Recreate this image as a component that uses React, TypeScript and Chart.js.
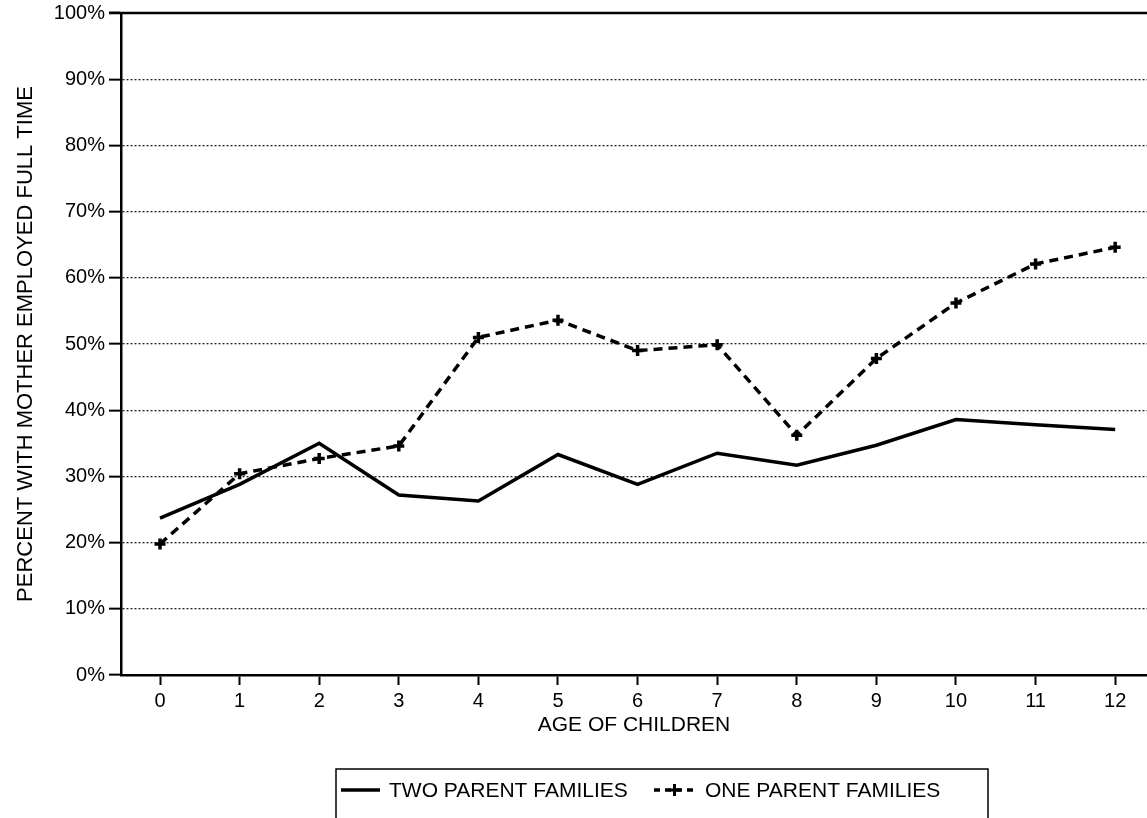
import React, { useEffect, useRef } from "react";
import { Chart, registerables } from "chart.js";

Chart.register(...registerables);

const ages: number[] = [0, 1, 2, 3, 4, 5, 6, 7, 8, 9, 10, 11, 12];
const twoParent: number[] = [23.7, 28.8, 35.0, 27.2, 26.3, 33.3, 28.8, 33.5, 31.7, 34.7, 38.6, 37.8, 37.1];
const oneParent: number[] = [19.8, 30.4, 32.7, 34.6, 51.0, 53.6, 49.0, 49.9, 36.2, 47.8, 56.2, 62.1, 64.6];
const yTicks: number[] = [0, 10, 20, 30, 40, 50, 60, 70, 80, 90, 100];
const seriesNames: string[] = ["TWO PARENT FAMILIES", "ONE PARENT FAMILIES"];
const xTitle = "AGE OF CHILDREN";
const yTitle = "PERCENT WITH MOTHER EMPLOYED FULL TIME";

const FONT = "'Liberation Sans', Arial, Helvetica, sans-serif";

const frameAndLegend = {
  id: "frameAndLegend",
  afterDraw(chart: any) {
    const { ctx, chartArea } = chart;
    ctx.save();
    ctx.strokeStyle = "#000";
    ctx.lineWidth = 2.5;
    ctx.setLineDash([]);
    ctx.beginPath();
    ctx.moveTo(chartArea.left - 12, chartArea.top);
    ctx.lineTo(chartArea.right, chartArea.top);
    ctx.stroke();

    const bx = 336, by = 769, bw = 652, bh = 80;
    ctx.lineWidth = 1.5;
    ctx.strokeRect(bx, by, bw, bh);

    const cy = 790;
    ctx.font = `21px ${FONT}`;
    ctx.fillStyle = "#000";
    ctx.textBaseline = "middle";
    ctx.textAlign = "left";
    ctx.lineWidth = 3.5;
    ctx.beginPath();
    ctx.moveTo(341, cy);
    ctx.lineTo(380, cy);
    ctx.stroke();
    ctx.fillText(seriesNames[0], 389, cy + 1);
    ctx.setLineDash([6, 5]);
    ctx.lineWidth = 3.5;
    ctx.beginPath();
    ctx.moveTo(654, cy);
    ctx.lineTo(695, cy);
    ctx.stroke();
    ctx.setLineDash([]);
    ctx.lineWidth = 3;
    ctx.beginPath();
    ctx.moveTo(668, cy);
    ctx.lineTo(681, cy);
    ctx.moveTo(674.5, cy - 6);
    ctx.lineTo(674.5, cy + 6);
    ctx.stroke();
    ctx.fillText(seriesNames[1], 705, cy + 1);
    ctx.restore();
  },
};

export default function App() {
  const ref = useRef<HTMLCanvasElement | null>(null);
  useEffect(() => {
    if (!ref.current) return;
    const chart = new Chart(ref.current, {
      type: "line",
      data: {
        datasets: [
          {
            label: seriesNames[0],
            data: ages.map((a, i) => ({ x: a, y: twoParent[i] })),
            borderColor: "#000",
            borderWidth: 3.5,
            pointRadius: 0,
            tension: 0,
            fill: false,
          },
          {
            label: seriesNames[1],
            data: ages.map((a, i) => ({ x: a, y: oneParent[i] })),
            borderColor: "#000",
            borderWidth: 3.5,
            borderDash: [9, 6],
            pointStyle: "cross",
            pointRadius: 5.5,
            pointBorderWidth: 3.5,
            pointBorderColor: "#000",
            pointBackgroundColor: "#000",
            tension: 0,
            fill: false,
          },
        ],
      },
      options: {
        responsive: false,
        animation: false,
        events: [],
        layout: { autoPadding: false, padding: { top: 13, left: 0, right: 0, bottom: 80 } },
        plugins: {
          legend: { display: false },
          tooltip: { enabled: false },
          title: { display: false },
        },
        scales: {
          x: {
            type: "linear",
            min: -0.49,
            max: 12.4,
            afterBuildTicks: (s: any) => {
              s.ticks = ages.map((v) => ({ value: v }));
            },
            afterFit: (s: any) => {
              s.height = 63;
              s.paddingLeft = 0;
              s.paddingRight = 0;
            },
            grid: {
              drawOnChartArea: false,
              drawTicks: true,
              tickLength: 10,
              tickWidth: 2,
              tickColor: "#000",
              color: "#000",
            },
            border: { display: true, color: "#000", width: 2.5 },
            ticks: {
              color: "#000",
              padding: 4,
              font: { family: FONT, size: 20 },
              maxRotation: 0,
              autoSkip: false,
              callback: (v: any) => String(v),
            },
            title: {
              display: true,
              text: xTitle,
              color: "#000",
              font: { family: FONT, size: 21 },
              padding: { top: 0, bottom: 0 },
            },
          },
          y: {
            type: "linear",
            min: 0,
            max: 100,
            afterBuildTicks: (s: any) => {
              s.ticks = yTicks.map((v) => ({ value: v }));
            },
            afterFit: (s: any) => {
              s.width = 121;
              s.paddingTop = 0;
              s.paddingBottom = 0;
            },
            grid: {
              drawOnChartArea: true,
              drawTicks: true,
              tickLength: 12,
              tickWidth: 2,
              tickColor: "#000",
              tickBorderDash: [],
              color: (c: any) => (c.tick && (c.tick.value === 0 || c.tick.value === 100) ? "rgba(0,0,0,0)" : "#222"),
              lineWidth: 1.3,
            },
            border: { display: true, color: "#000", width: 2.5, dash: [2, 2] },
            ticks: {
              color: "#000",
              padding: 4,
              font: { family: FONT, size: 20 },
              callback: (v: any) => v + "%",
            },
            title: {
              display: true,
              text: yTitle,
              color: "#000",
              font: { family: FONT, size: 22 },
              padding: { top: 13, bottom: 0 },
            },
          },
        },
      },
      plugins: [frameAndLegend],
    } as any);
    return () => chart.destroy();
  }, []);
  return (
    <div style={{ position: "absolute", left: 0, top: 0, width: 1147, height: 818, background: "#fff" }}>
      <canvas ref={ref} width={1147} height={818} style={{ display: "block" }} />
    </div>
  );
}
